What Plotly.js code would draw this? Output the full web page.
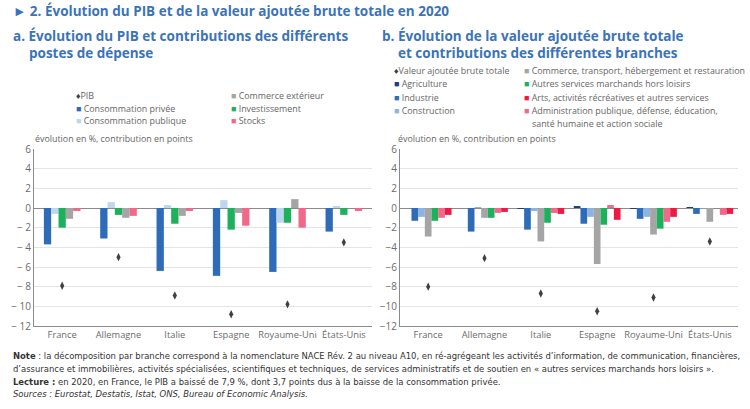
<!DOCTYPE html>
<html><head><meta charset="utf-8">
<script src="https://cdn.plot.ly/plotly-3.0.1.min.js"></script>
<style>html,body{margin:0;padding:0;background:#fff}</style>
</head><body><div id="chart" style="width:750px;height:409px"></div>
<script>
// ---- Data ----
const countries = ["France","Allemagne","Italie","Espagne","Royaume-Uni","États-Unis"];
const yTickVals = [6,4,2,0,-2,-4,-6,-8,-10,-12];
const yTickTextLeft = ["6","4","2","0","− 2","− 4","− 6","− 8","− 10","− 12"];
const yTickTextRight = ["6","4","2","0","−2","−4","−6","−8","−10","−12"];
// Panel a
const pib = [-7.9,-5.0,-8.9,-10.8,-9.8,-3.5];
const consoPrivee = [-3.7,-3.1,-6.4,-6.9,-6.5,-2.4];
const consoPublique = [-0.6,0.6,0.3,0.8,-1.5,0.2];
const investissement = [-2.0,-0.7,-1.6,-2.2,-1.5,-0.7];
const commerceExt = [-1.1,-1.0,-0.8,-0.5,0.9,0.0];
const stocks = [-0.3,-0.8,-0.3,-1.8,-2.0,-0.3];
// Panel b
const vab = [-8.0,-5.1,-8.7,-10.5,-9.1,-3.4];
const agriculture = [0.0,0.0,-0.1,0.2,-0.1,0.1];
const industrie = [-1.3,-2.4,-2.2,-1.6,-1.1,-0.6];
const construction = [-0.9,0.1,-0.3,-0.9,-0.9,-0.05];
const commerce = [-2.9,-1.0,-3.4,-5.7,-2.7,-1.4];
const autresServices = [-1.3,-1.0,-1.5,-1.7,-2.1,0.0];
const administration = [-1.0,-0.5,-0.5,0.3,-1.4,-0.7];
const arts = [-0.7,-0.4,-0.6,-1.2,-0.9,-0.6];

// ---- Styles ----
const C = {
  blue:'#2e6cb7', light:'#bdd7ee', green:'#1db15e', gray:'#a5a5a5', pink:'#f0688a',
  navy:'#1f3e78', midblue:'#8db3e2', red:'#ec1b45', dark:'#404040'
};
const W = 750, H = 409;
const px = (x) => x / W;
const py = (y) => 1 - y / H;

function barSet(series, xa, ya, total) {
  const n = series.length;
  const bw = total / n;
  return series.map((s, i) => ({
    type:'bar', x:countries, y:s.y, xaxis:xa, yaxis:ya,
    width:bw, offset:-total/2 + i*bw,
    marker:{color:s.c, line:{width:0}}, showlegend:false, hoverinfo:'y'
  }));
}

const left = barSet([
  {y:consoPrivee, c:C.blue},
  {y:consoPublique, c:C.light},
  {y:investissement, c:C.green},
  {y:commerceExt, c:C.gray},
  {y:stocks, c:C.pink}
], 'x', 'y', 0.65);

const right = barSet([
  {y:agriculture, c:C.navy},
  {y:industrie, c:C.blue},
  {y:construction, c:C.midblue},
  {y:commerce, c:C.gray},
  {y:autresServices, c:C.green},
  {y:administration, c:C.pink},
  {y:arts, c:C.red}
], 'x2', 'y2', 0.83);

const dots = [
  {type:'scatter', mode:'markers', x:countries, y:pib, xaxis:'x', yaxis:'y',
   marker:{symbol:'diamond-tall', size:6, color:C.dark}, showlegend:false},
  {type:'scatter', mode:'markers', x:countries, y:vab, xaxis:'x2', yaxis:'y2',
   marker:{symbol:'diamond-tall', size:6, color:C.dark}, showlegend:false}
];

const FONT = '"Open Sans", "Noto Sans", sans-serif';
const tickFont = {family:FONT, size:10, color:'#6b6b6b'};
const xTickFont = {family:FONT, size:9.3, color:'#6b6b6b'};
const yDom = [py(326), py(149)];

function yax(anchor, text) {
  return {domain:yDom, anchor:anchor, range:[-12,6], tickvals:yTickVals, ticktext:text,
    showgrid:true, gridcolor:'#e4e4e4', gridwidth:1, zeroline:true, zerolinecolor:'#8a8a8a',
    zerolinewidth:1, showline:true, linecolor:'#8a8a8a', linewidth:1, ticks:'',
    tickfont:tickFont, fixedrange:true};
}
function xax(domain, anchor) {
  return {domain:domain, anchor:anchor, type:'category', range:[-0.5,5.5], showgrid:false,
    showline:true, linecolor:'#8a8a8a', linewidth:1, ticks:'', tickangle:0, tickfont:xTickFont, fixedrange:true};
}

const blueT = '#3b73b9';
const legGray = '#666666';
function sq(c){ return '<span style="color:'+c+'">■</span> '; }
const ann = [];
function A(x, y, text, size, color, opts) {
  ann.push(Object.assign({xref:'paper', yref:'paper', x:px(x), y:py(y), xanchor:'left', yanchor:'middle',
    text:text, showarrow:false, align:'left', font:{family:FONT, size:size, color:color}}, opts||{}));
}
// Titles
A(11, 11, '<b>► 2. Évolution du PIB et de la valeur ajoutée brute totale en 2020</b>', 13.5, blueT);
A(11, 36, '<b>a. Évolution du PIB et contributions des différents</b>', 13.5, blueT);
A(27, 53, '<b>postes de dépense</b>', 13.5, blueT);
A(380, 36, '<b>b. Évolution de la valeur ajoutée brute totale</b>', 13.5, blueT);
A(396, 53, '<b>et contributions des différentes branches</b>', 13.5, blueT);
// Legend a
const lf = 8.9;
A(74, 96, '<span style="color:'+C.dark+'">♦</span>PIB', lf, legGray);
A(74, 108, sq(C.blue)+'Consommation privée', lf, legGray);
A(74, 121, sq(C.light)+'Consommation publique', lf, legGray);
A(229, 96, sq(C.gray)+'Commerce extérieur', lf, legGray);
A(229, 108, sq(C.green)+'Investissement', lf, legGray);
A(229, 121, sq(C.pink)+'Stocks', lf, legGray);
// Legend b
A(392, 70, '<span style="color:'+C.dark+'">♦</span>Valeur ajoutée brute totale', lf, legGray);
A(392, 83, sq(C.navy)+'Agriculture', lf, legGray);
A(392, 97, sq(C.blue)+'Industrie', lf, legGray);
A(392, 111, sq(C.midblue)+'Construction', lf, legGray);
A(522, 70, sq(C.gray)+'Commerce, transport, hébergement et restauration', lf, legGray);
A(522, 83, sq(C.green)+'Autres services marchands hors loisirs', lf, legGray);
A(522, 97, sq(C.red)+'Arts, activités récréatives et autres services', lf, legGray);
A(522, 111, sq(C.pink)+'Administration publique, défense, éducation,', lf, legGray);
A(530, 123, 'santé humaine et action sociale', lf, legGray);
// Axis captions
A(33, 139, 'évolution en %, contribution en points', lf, legGray);
A(396, 139, 'évolution en %, contribution en points', lf, legGray);
// Notes
const NF = '"Liberation Sans Narrow", "DejaVu Sans Condensed", sans-serif';
const nc = '#333333';
function N(y, text, italic){
  ann.push({xref:'paper', yref:'paper', x:px(11), y:py(y), xanchor:'left', yanchor:'middle', text:text,
    showarrow:false, align:'left', font:{family:NF, size:9.4, color:nc, style: italic?'italic':'normal'}});
}
N(355, '<b>Note</b> : la décomposition par branche correspond à la nomenclature NACE Rév. 2 au niveau A10, en ré-agrégeant les activités d’information, de communication, financières,');
N(368, 'd’assurance et immobilières, activités spécialisées, scientifiques et techniques, de services administratifs et de soutien en « autres services marchands hors loisirs ».');
N(381, '<b>Lecture :</b> en 2020, en France, le PIB a baissé de 7,9 %, dont 3,7 points dus à la baisse de la consommation privée.');
N(393, 'Sources : Eurostat, Destatis, Istat, ONS, Bureau of Economic Analysis.', true);

const layout = {
  width:W, height:H, margin:{l:0,r:0,t:0,b:0}, paper_bgcolor:'#fff', plot_bgcolor:'#fff',
  barmode:'overlay', showlegend:false,
  xaxis: xax([px(34), px(372)], 'y'),
  yaxis: yax('x', yTickTextLeft),
  xaxis2: xax([px(400), px(738)], 'y2'),
  yaxis2: yax('x2', yTickTextRight),
  annotations: ann,
  font:{family:FONT}
};
Plotly.newPlot('chart', [...left, ...right, ...dots], layout, {displayModeBar:false, staticPlot:true});
</script></body></html>
